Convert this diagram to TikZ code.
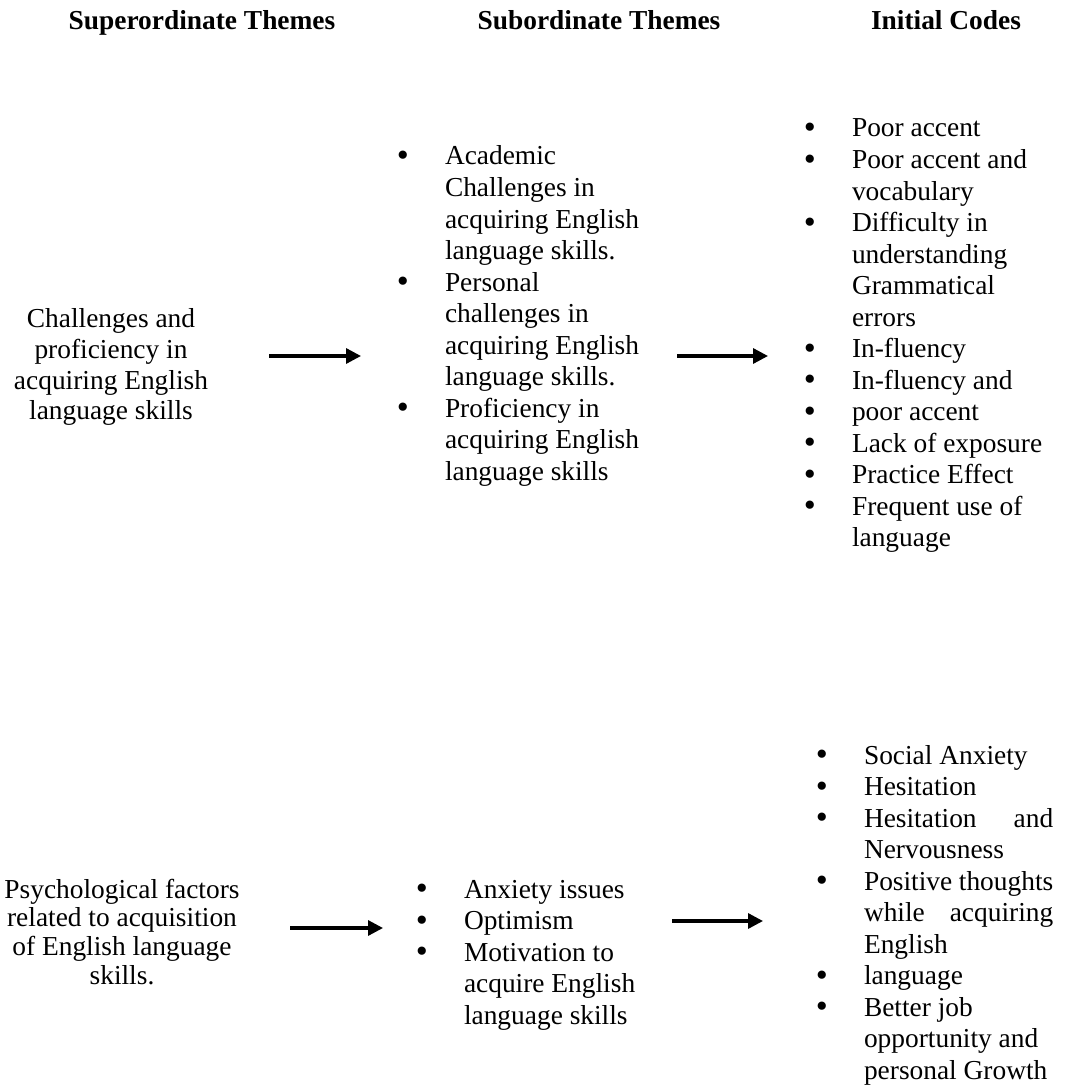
\documentclass[tikz,border=0pt]{standalone}
\usepackage{fontspec}
\setmainfont{Liberation Serif}
\usetikzlibrary{arrows.meta}
\newcommand{\bul}{\leavevmode\llap{\raisebox{-0.7pt}{\fontsize{15}{15}\selectfont\textbullet}\hspace{15.8pt}}}
\newcommand{\jl}[1]{\makebox[82.9pt][s]{#1}}
\begin{document}
\begin{tikzpicture}[x=0.438pt,y=-0.438pt,
  every node/.style={inner sep=0pt, outer sep=0pt},
  hdr/.style={anchor=base, font=\fontsize{12}{13.8}\selectfont\bfseries},
  lst/.style={anchor=base west, font=\fontsize{12}{13.8}\selectfont},
  ctr/.style={anchor=base, font=\fontsize{12}{13.8}\selectfont},
  arr/.style={line width=1.4pt, -{Triangle[length=6.5pt,width=6.5pt]}}]
\useasboundingbox (0,0) rectangle (1066,1086);
% headers
\node[hdr] (h1) at (202,30) {Superordinate Themes};
\node[hdr] (h2) at (599,30) {Subordinate Themes};
\node[hdr] (h3) at (946,30) {Initial Codes};
% top row
\node[ctr] (sup1) at (111,328) {\parbox[t]{160pt}{\centering\fontsize{12}{13.4}\selectfont Challenges and\\ proficiency in\\ acquiring English\\ language skills}};
\node[lst] (sub1) at (445,165) {\parbox[t]{100pt}{\raggedright
\bul Academic\\ Challenges in\\ acquiring English\\ language skills.\\
\bul Personal\\ challenges in\\ acquiring English\\ language skills.\\
\bul Proficiency in\\ acquiring English\\ language skills}};
\node[lst] (codes1) at (852,137) {\parbox[t]{100pt}{\raggedright
\bul Poor accent\\
\bul Poor accent and\\ vocabulary\\
\bul Difficulty in\\ understanding\\ Grammatical\\ errors\\
\bul In-fluency\\
\bul In-fluency and\\
\bul poor accent\\
\bul Lack of exposure\\
\bul Practice Effect\\
\bul Frequent use of\\ language}};
% bottom row
\node[ctr] (sup2) at (122,898) {\parbox[t]{160pt}{\centering\fontsize{12}{12.6}\selectfont Psychological factors\\ related to acquisition\\ of English language\\ skills.}};
\node[lst] (sub2) at (464,898) {\parbox[t]{100pt}{\raggedright
\bul Anxiety issues\\
\bul Optimism\\
\bul Motivation to\\ acquire English\\ language skills}};
\node[lst] (codes2) at (864,764) {\parbox[t]{100pt}{\raggedright
\bul Social Anxiety\\
\bul Hesitation\\
\bul \jl{Hesitation and}\\ Nervousness\\
\bul \jl{Positive thoughts}\\ \jl{while acquiring}\\ English\\
\bul language\\
\bul Better job\\ opportunity and\\ personal Growth}};
% arrows
\coordinate (a1s) at (269,356); \coordinate (a1e) at (361,356);
\coordinate (a2s) at (677,356); \coordinate (a2e) at (768,356);
\coordinate (a3s) at (290,928); \coordinate (a3e) at (383,928);
\coordinate (a4s) at (672,921); \coordinate (a4e) at (763,921);
\draw[arr] (a1s) -- (a1e);
\draw[arr] (a2s) -- (a2e);
\draw[arr] (a3s) -- (a3e);
\draw[arr] (a4s) -- (a4e);
\end{tikzpicture}
\end{document}
